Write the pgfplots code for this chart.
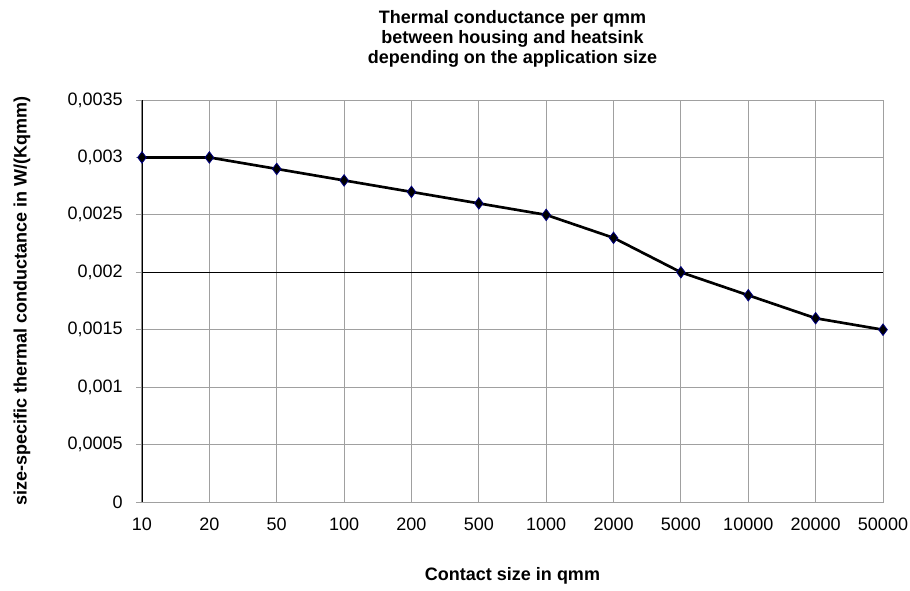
\documentclass[border=0pt]{standalone}
\usepackage{fontspec}
\setmainfont{Liberation Sans}
\usepackage{pgfplots}
\pgfplotsset{compat=1.18}
\definecolor{gridgray}{RGB}{160,160,160}
\definecolor{navy}{RGB}{0,0,128}
\begin{document}
\begin{tikzpicture}
\useasboundingbox (-106.5pt,-66pt) rectangle (576pt,376.5pt);
\begin{axis}[
  name=ax,
  at={(0,0)}, anchor=south west,
  scale only axis, width=555.75pt, height=301.5pt,
  xmin=0, xmax=11, ymin=0, ymax=0.0035,
  xtick={0,...,11},
  xticklabels={10,20,50,100,200,500,1000,2000,5000,10000,20000,50000},
  ytick={0,0.0005,0.001,0.0015,0.002,0.0025,0.003,0.0035},
  scaled y ticks=false,
  /pgf/number format/use comma,
  /pgf/number format/fixed,
  /pgf/number format/precision=4,
  /pgf/number format/assume math mode=true,
  font=\fontsize{13.5}{16}\selectfont,
  tick label style={font=\fontsize{13.5}{16}\selectfont},
  xticklabel style={yshift=-4pt},
  yticklabel style={xshift=-6.5pt},
  grid=major, major grid style={gridgray, line width=0.75pt},
  axis line style={gridgray, line width=0.75pt},
  x tick style={draw=none},
  y tick style={gridgray, line width=0.75pt},
  tick align=outside, major tick length=4.5pt,
  ytick pos=left,
  extra y ticks={0.002}, extra y tick labels={},
  extra y tick style={major grid style={black, line width=0.75pt}},
  xlabel={Contact size in qmm},
  xlabel style={at={(axis description cs:0.5,-0.184)}, anchor=center, font=\bfseries\fontsize{13.5}{16}\selectfont},
  ylabel={size-specific thermal conductance in W/(Kqmm)},
  ylabel style={at={(axis description cs:-0.162,0.5)}, anchor=center, font=\bfseries\fontsize{13.5}{16}\selectfont},
]
\addplot[black, line width=2pt, mark=diamond*, mark size=4.3pt,
  mark options={fill=black, draw=navy, line width=0.6pt}] coordinates {
  (0,0.003) (1,0.003) (2,0.0029) (3,0.0028) (4,0.0027) (5,0.0026)
  (6,0.0025) (7,0.0023) (8,0.002) (9,0.0018) (10,0.0016) (11,0.0015)
};
\draw[black, line width=1pt] (rel axis cs:0,0) -- (rel axis cs:0,1);
\end{axis}
\node[align=center, font=\bfseries\fontsize{13.5}{15}\selectfont]
  at ([yshift=45.5pt]ax.north)
  {Thermal conductance per qmm\\between housing and heatsink\\depending on the application size};
\end{tikzpicture}
\end{document}
